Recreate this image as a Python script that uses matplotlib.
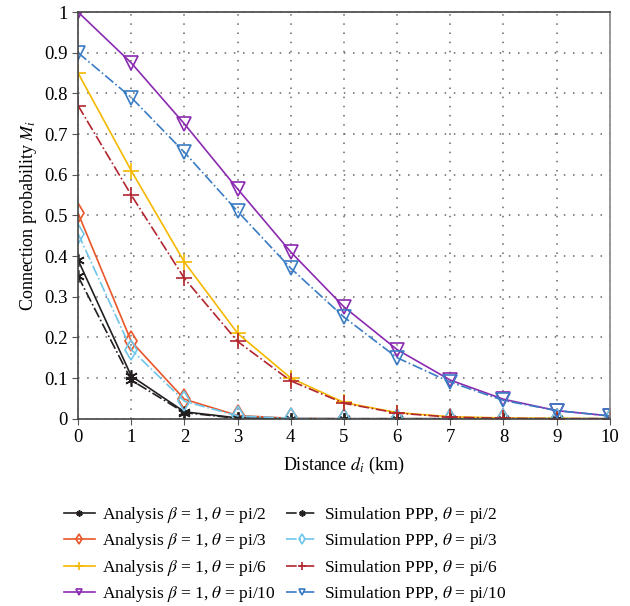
import matplotlib.pyplot as plt
import numpy as np

plt.rcParams['font.family'] = ['Liberation Serif', 'DejaVu Serif']
plt.rcParams['mathtext.fontset'] = 'stix'

distance = np.arange(0, 11)

# analysis curves (beta = 1)
ana_pi2 = [0.39, 0.105, 0.017, 0.002, 0.0, 0.0, 0.0, 0.0, 0.0, 0.0, 0.0]
ana_pi3 = [0.505, 0.19, 0.048, 0.008, 0.001, 0.0, 0.0, 0.0, 0.0, 0.0, 0.0]
ana_pi6 = [0.85, 0.61, 0.385, 0.21, 0.10, 0.04, 0.015, 0.005, 0.002, 0.001, 0.0]
ana_pi10 = [1.0, 0.875, 0.725, 0.565, 0.41, 0.275, 0.17, 0.095, 0.048, 0.02, 0.007]

# simulation PPP
sim_pi2 = [0.35, 0.095, 0.015, 0.001, 0.0, 0.0, 0.0, 0.0, 0.0, 0.0, 0.0]
sim_pi3 = [0.455, 0.17, 0.043, 0.007, 0.001, 0.0, 0.0, 0.0, 0.0, 0.0, 0.0]
sim_pi6 = [0.77, 0.55, 0.345, 0.19, 0.093, 0.038, 0.014, 0.004, 0.001, 0.0, 0.0]
sim_pi10 = [0.90, 0.79, 0.655, 0.51, 0.37, 0.25, 0.15, 0.09, 0.045, 0.02, 0.007]

fig = plt.figure(figsize=(6.3, 6.06), dpi=100)
ax = fig.add_axes([0.124, 0.309, 0.844, 0.671])

star = (6, 2, 0)
analysis = [
    (ana_pi2, '#231f20', star, 9, 'pi/2'),
    (ana_pi3, '#e8562a', 'd', 10, 'pi/3'),
    (ana_pi6, '#f5b800', '+', 11, 'pi/6'),
    (ana_pi10, '#8a2ab0', 'v', 10, 'pi/10'),
]
simulation = [
    (sim_pi2, '#231f20', star, 9, 'pi/2'),
    (sim_pi3, '#6ec6ea', 'd', 10, 'pi/3'),
    (sim_pi6, '#b2252e', '+', 11, 'pi/6'),
    (sim_pi10, '#3a7cc4', 'v', 10, 'pi/10'),
]

lines = []
for vals, c, m, ms, th in analysis:
    l, = ax.plot(distance, vals, color=c, marker=m, ms=ms, mfc='none', mec=c,
                 mew=1.2, lw=1.2, ls='-',
                 label=r'Analysis $\beta$ = 1, $\theta$ = ' + th)
    lines.append(l)
for vals, c, m, ms, th in simulation:
    l, = ax.plot(distance, vals, color=c, marker=m, ms=ms, mfc='none', mec=c,
                 mew=1.2, lw=1.2, ls='-.',
                 label=r'Simulation PPP, $\theta$ = ' + th)
    lines.append(l)

ax.set_xlim(0, 10)
ax.set_ylim(0, 1)
ax.set_xticks(range(0, 11))
ax.set_yticks(np.arange(0, 1.01, 0.1))
ax.set_yticklabels(['0'] + ['%.1f' % v for v in np.arange(0.1, 0.95, 0.1)] + ['1'])
ax.tick_params(labelsize=13.5, direction='out', length=4, color='#555555')
ax.grid(True, ls=(0, (1, 5)), color='#666666', lw=1.1)
for s in ax.spines.values():
    s.set_color('#444444')
    s.set_linewidth(1.2)
ax.spines['right'].set_color('#888888')

ax.set_xlabel(r'Distance $d_i$ (km)', fontsize=13, labelpad=6)
ax.set_ylabel(r'Connection probability $M_i$', fontsize=13, labelpad=4)

fig.legend(handles=lines, ncol=2, loc='upper left', bbox_to_anchor=(0.09, 0.178),
           frameon=False, fontsize=12.5, handlelength=1.8, handletextpad=0.4,
           columnspacing=0.6, labelspacing=0.36, markerscale=0.5,
           borderaxespad=0)

fig.savefig('out.png', dpi=100)
